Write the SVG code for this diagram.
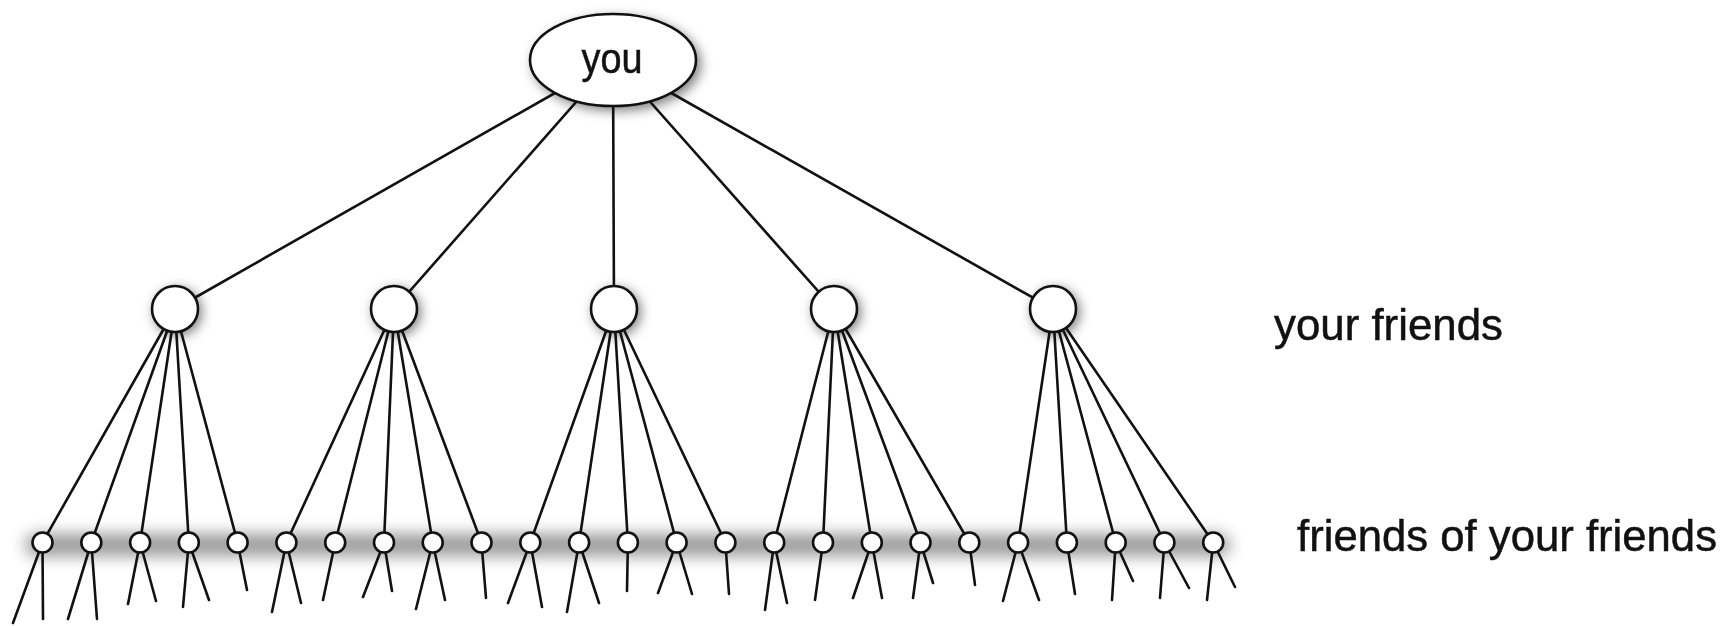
<svg xmlns="http://www.w3.org/2000/svg" width="1723" height="626" viewBox="0 0 1723 626">
<defs>
<style>
.e{stroke:#111;stroke-width:2.6;fill:none;stroke-linecap:round}
.n{fill:#fff;stroke:#111;stroke-width:2.6}
.s{fill:#000;opacity:0.5}
.ss{fill:#000;opacity:0.4}
.t{font-family:"Liberation Sans",Arial,sans-serif;fill:#111;stroke:#111;stroke-width:0.5}
</style>
<filter id="blur" x="-30%" y="-30%" width="160%" height="160%"><feGaussianBlur stdDeviation="6"/></filter>
<filter id="blur2" x="-10%" y="-100%" width="120%" height="300%"><feGaussianBlur stdDeviation="8"/></filter>
</defs>
<rect width="1723" height="626" fill="#fff"/>
<g id="shadows">
<g filter="url(#blur)">
<ellipse class="s" cx="617" cy="64" rx="84" ry="47"/>
<circle class="s" cx="178" cy="312" r="24"/>
<circle class="s" cx="397" cy="312" r="24"/>
<circle class="s" cx="617" cy="312" r="24"/>
<circle class="s" cx="837" cy="312" r="24"/>
<circle class="s" cx="1056" cy="312" r="24"/>
</g>
<rect class="ss" x="25" y="534" width="1205" height="22" rx="11" opacity="0.28" filter="url(#blur2)"/>
</g>
<g id="connectors">
<line class="e" x1="613" y1="60" x2="175" y2="309"/>
<line class="e" x1="613" y1="60" x2="394" y2="309"/>
<line class="e" x1="613" y1="60" x2="614" y2="309"/>
<line class="e" x1="613" y1="60" x2="834" y2="309"/>
<line class="e" x1="613" y1="60" x2="1053" y2="309"/>
<line class="e" x1="175" y1="309" x2="42.5" y2="542.5"/>
<line class="e" x1="175" y1="309" x2="91.3" y2="542.5"/>
<line class="e" x1="175" y1="309" x2="140.1" y2="542.5"/>
<line class="e" x1="175" y1="309" x2="188.8" y2="542.5"/>
<line class="e" x1="175" y1="309" x2="237.6" y2="542.5"/>
<line class="e" x1="394" y1="309" x2="286.4" y2="542.5"/>
<line class="e" x1="394" y1="309" x2="335.2" y2="542.5"/>
<line class="e" x1="394" y1="309" x2="384.0" y2="542.5"/>
<line class="e" x1="394" y1="309" x2="432.7" y2="542.5"/>
<line class="e" x1="394" y1="309" x2="481.5" y2="542.5"/>
<line class="e" x1="614" y1="309" x2="530.3" y2="542.5"/>
<line class="e" x1="614" y1="309" x2="579.1" y2="542.5"/>
<line class="e" x1="614" y1="309" x2="627.9" y2="542.5"/>
<line class="e" x1="614" y1="309" x2="676.6" y2="542.5"/>
<line class="e" x1="614" y1="309" x2="725.4" y2="542.5"/>
<line class="e" x1="834" y1="309" x2="774.2" y2="542.5"/>
<line class="e" x1="834" y1="309" x2="823.0" y2="542.5"/>
<line class="e" x1="834" y1="309" x2="871.8" y2="542.5"/>
<line class="e" x1="834" y1="309" x2="920.5" y2="542.5"/>
<line class="e" x1="834" y1="309" x2="969.3" y2="542.5"/>
<line class="e" x1="1053" y1="309" x2="1018.1" y2="542.5"/>
<line class="e" x1="1053" y1="309" x2="1066.9" y2="542.5"/>
<line class="e" x1="1053" y1="309" x2="1115.7" y2="542.5"/>
<line class="e" x1="1053" y1="309" x2="1164.4" y2="542.5"/>
<line class="e" x1="1053" y1="309" x2="1213.2" y2="542.5"/>
<path class="e" d="M42.5 542.5L13 623M42.5 542.5L43 619
M91.3 542.5L68 619M91.3 542.5L97 619
M140.1 542.5L128 604M140.1 542.5L156 601
M188.8 542.5L183 607M188.8 542.5L209 600
M237.6 542.5L247 590
M286.4 542.5L272 612M286.4 542.5L301 603
M335.2 542.5L323 600
M384 542.5L363 597M384 542.5L392 591
M432.7 542.5L416 609M432.7 542.5L445 600
M481.5 542.5L486 598
M530.3 542.5L508 603M530.3 542.5L542 607
M579.1 542.5L567 612M579.1 542.5L599 603
M627.9 542.5L627 591
M676.6 542.5L658 593M676.6 542.5L692 594
M725.4 542.5L729 594
M774.2 542.5L765 610M774.2 542.5L787 603
M823 542.5L815 600
M871.8 542.5L853 598M871.8 542.5L882 598
M920.5 542.5L913 598M920.5 542.5L933 583
M969.3 542.5L975 585
M1018.1 542.5L1003 601M1018.1 542.5L1039 600
M1066.9 542.5L1075 594
M1115.7 542.5L1112 600M1115.7 542.5L1133 581
M1164.4 542.5L1160 598M1164.4 542.5L1189 588
M1213.2 542.5L1207 600M1213.2 542.5L1235 587"/>
</g>
<g id="you"><ellipse class="n" cx="613" cy="60" rx="83" ry="46"/><text class="t" x="612" y="73" font-size="43" text-anchor="middle" textLength="61" lengthAdjust="spacingAndGlyphs">you</text></g>
<g id="f1"><circle class="n" cx="175" cy="309" r="23"/></g>
<g id="f2"><circle class="n" cx="394" cy="309" r="23"/></g>
<g id="f3"><circle class="n" cx="614" cy="309" r="23"/></g>
<g id="f4"><circle class="n" cx="834" cy="309" r="23"/></g>
<g id="f5"><circle class="n" cx="1053" cy="309" r="23"/></g>
<g id="ff">
<g id="ff0"><circle class="n" cx="42.5" cy="542.5" r="10"/></g>
<g id="ff1"><circle class="n" cx="91.3" cy="542.5" r="10"/></g>
<g id="ff2"><circle class="n" cx="140.1" cy="542.5" r="10"/></g>
<g id="ff3"><circle class="n" cx="188.8" cy="542.5" r="10"/></g>
<g id="ff4"><circle class="n" cx="237.6" cy="542.5" r="10"/></g>
<g id="ff5"><circle class="n" cx="286.4" cy="542.5" r="10"/></g>
<g id="ff6"><circle class="n" cx="335.2" cy="542.5" r="10"/></g>
<g id="ff7"><circle class="n" cx="384.0" cy="542.5" r="10"/></g>
<g id="ff8"><circle class="n" cx="432.7" cy="542.5" r="10"/></g>
<g id="ff9"><circle class="n" cx="481.5" cy="542.5" r="10"/></g>
<g id="ff10"><circle class="n" cx="530.3" cy="542.5" r="10"/></g>
<g id="ff11"><circle class="n" cx="579.1" cy="542.5" r="10"/></g>
<g id="ff12"><circle class="n" cx="627.9" cy="542.5" r="10"/></g>
<g id="ff13"><circle class="n" cx="676.6" cy="542.5" r="10"/></g>
<g id="ff14"><circle class="n" cx="725.4" cy="542.5" r="10"/></g>
<g id="ff15"><circle class="n" cx="774.2" cy="542.5" r="10"/></g>
<g id="ff16"><circle class="n" cx="823.0" cy="542.5" r="10"/></g>
<g id="ff17"><circle class="n" cx="871.8" cy="542.5" r="10"/></g>
<g id="ff18"><circle class="n" cx="920.5" cy="542.5" r="10"/></g>
<g id="ff19"><circle class="n" cx="969.3" cy="542.5" r="10"/></g>
<g id="ff20"><circle class="n" cx="1018.1" cy="542.5" r="10"/></g>
<g id="ff21"><circle class="n" cx="1066.9" cy="542.5" r="10"/></g>
<g id="ff22"><circle class="n" cx="1115.7" cy="542.5" r="10"/></g>
<g id="ff23"><circle class="n" cx="1164.4" cy="542.5" r="10"/></g>
<g id="ff24"><circle class="n" cx="1213.2" cy="542.5" r="10"/></g>
</g>
<g id="labels">
<text class="t" x="1274" y="340" font-size="44" textLength="229" lengthAdjust="spacingAndGlyphs">your friends</text>
<text class="t" x="1297" y="551" font-size="44" textLength="420" lengthAdjust="spacingAndGlyphs">friends of your friends</text>
</g>
</svg>
